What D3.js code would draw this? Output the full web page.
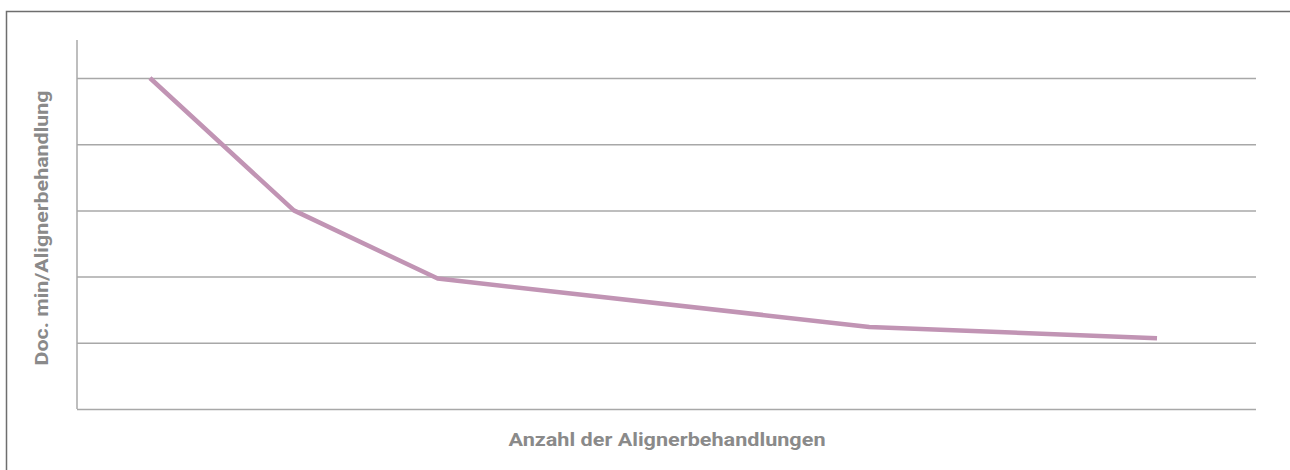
<!DOCTYPE html>
<html>
<head>
	<meta charset="utf-8">
	<title>Doc. min/Alignerbehandlung</title>
	<script src="https://d3js.org/d3.v7.min.js"></script>
	<style type="text/css">
		body {
			margin: 0;
			padding: 0;
			background: #fff;
			overflow: hidden;
		}
		#chart {
			margin: 0;
			padding: 0;
		}
		svg {
			display: block;
		}
		.lbl {
			font-family: "Roboto", "Liberation Sans", sans-serif;
			font-weight: bold;
			fill: #8a8a8a;
		}
	</style>
</head>
<body>

<div id="chart"></div>

<script>

// Anzahl der Alignerbehandlungen
var treatments = [1, 2, 3, 6, 8];
// Doc. min pro Alignerbehandlung (relative)
var docMinutes = [5, 3, 1.97, 1.24, 1.07];
var yTicks = [0, 1, 2, 3, 4, 5];

var xTitle = "Anzahl der Alignerbehandlungen",
	yTitle = "Doc. min/Alignerbehandlung";

var ww = 1290,
	wh = 470;

var padL = 77, padR = 1256, padT = 40, padB = 409;

var svg = d3.select("#chart").append("svg")
	.attr("width", ww)
	.attr("height", wh);

// outer frame (runs off the right and bottom edge)
svg.append("rect")
	.attr("x", 6.5)
	.attr("y", 11.5)
	.attr("width", ww + 50)
	.attr("height", wh + 50)
	.attr("fill", "none")
	.attr("stroke", "#6e6e6e")
	.attr("stroke-width", 1.5);

var x = d3.scaleLinear()
	.domain([0.493, 8.688])
	.range([padL, padR]);

var y = d3.scaleLinear()
	.domain([0, 5])
	.range([padB, 78]);

// horizontal gridlines, no tick labels
var grid = svg.append("g")
	.attr("transform", "translate(" + padL + ",0)")
	.call(d3.axisLeft(y).tickValues(yTicks).tickSize(-(padR - padL)).tickFormat(""));
grid.select(".domain").remove();
grid.selectAll(".tick line")
	.attr("stroke", "#a8a8a8")
	.attr("stroke-width", 1.5);

// y axis line
svg.append("line")
	.attr("x1", padL).attr("x2", padL)
	.attr("y1", padT).attr("y2", padB)
	.attr("stroke", "#a8a8a8")
	.attr("stroke-width", 1.5);

var line = d3.line()
	.x(function(d, i) { return x(treatments[i]); })
	.y(function(d) { return y(d); });

svg.append("path")
	.datum(docMinutes)
	.attr("d", line)
	.attr("fill", "none")
	.attr("stroke", "#c194b4")
	.attr("stroke-width", 4.5)
	.attr("stroke-linejoin", "round");

svg.append("text")
	.attr("class", "lbl")
	.attr("x", 667)
	.attr("y", 446)
	.attr("text-anchor", "middle")
	.attr("font-size", 18)
	.attr("textLength", 317)
	.attr("lengthAdjust", "spacingAndGlyphs")
	.text(xTitle);

svg.append("text")
	.attr("class", "lbl")
	.attr("transform", "translate(48,228) rotate(-90)")
	.attr("text-anchor", "middle")
	.attr("font-size", 18)
	.attr("textLength", 275)
	.attr("lengthAdjust", "spacingAndGlyphs")
	.text(yTitle);

</script>
</body>
</html>
